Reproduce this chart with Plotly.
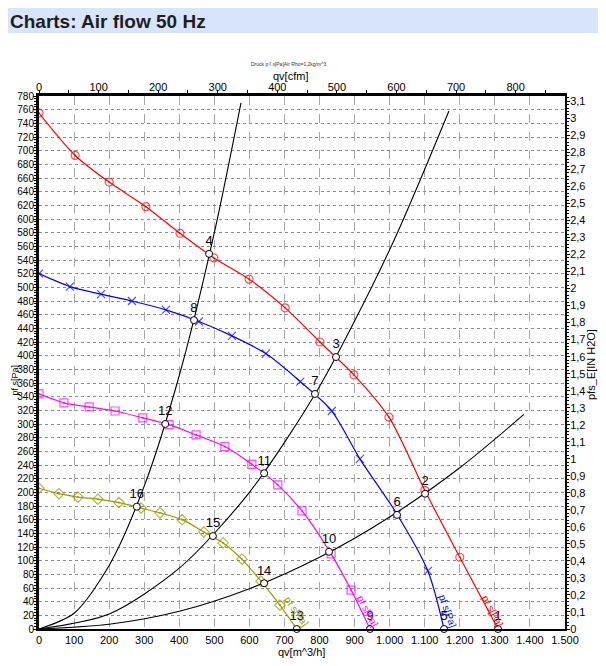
import plotly.graph_objects as go

# ---------------- data ----------------
CFM_TO_M3H = 1.69901      # m^3/h per cfm
PA_PER_INH2O = 249.089    # Pa per inch H2O

red_q = [0, 103, 200, 305, 402, 499, 599, 702, 801, 898, 998, 1100, 1200, 1309]
red_p = [755, 693, 654, 618, 579, 543, 512, 470, 420, 372, 310, 203, 105, 0]

blue_q = [0, 88, 177, 265, 362, 456, 550, 647, 745, 835, 915, 1021, 1109, 1155]
blue_p = [520, 501, 490, 480, 467, 450, 429, 403, 362, 319, 249, 168, 85, 0]

magenta_q = [0, 71, 143, 217, 296, 371, 448, 530, 607, 681, 750, 833, 890, 944]
magenta_p = [344, 331, 325, 319, 309, 299, 284, 267, 241, 211, 173, 110, 57, 0]

olive_q = [0, 57, 111, 168, 228, 291, 345, 408, 470, 525, 579, 633, 687, 735]
olive_p = [206, 198, 193, 190, 185, 177, 170, 160, 142, 126, 102, 70, 35, 0]

sys_high_q = [0, 100, 200, 300, 400, 500, 576]
sys_high_p = [0, 23, 93, 209, 371, 580, 770]

sys_mid_q = [0, 200, 400, 600, 800, 1000, 1169]
sys_mid_p = [0, 22, 89, 200, 355, 555, 758]

sys_low_q = [0, 200, 400, 600, 800, 1000, 1200, 1383]
sys_low_p = [0, 7, 26, 59, 105, 164, 236, 314]

op_q = [1309, 1101, 847, 485, 1155, 1021, 787, 442, 944, 827, 642, 360, 735, 642, 496, 279]
op_p = [0, 198, 398, 549, 0, 167, 344, 452, 0, 113, 228, 300, 0, 67, 136, 179]
op_labels = [str(i) for i in range(1, 17)]

x_range_m3h = [0, 1500]
y_range_pa = [0, 780]

title_text = "Charts: Air flow 50 Hz"
subtitle_text = "Druck p f s[Pa]Air Rho=1,2kg/m^3"
curve_label = "pf s[Pa]"
top_axis_title = "qv[cfm]"
left_axis_title = "pf s[Pa]"
right_axis_title = "pfs_E[IN H2O]"
bottom_axis_title = "qv[m^3/h]"

# ---------------- figure ----------------
fig = go.Figure()

FONT = "Liberation Sans, Arial, sans-serif"

curves = [
    (red_q, red_p, "#ff0000", "circle-open-dot", 8, -5, 62),
    (blue_q, blue_p, "#0000ff", "x-thin-open", 8, 4, 70),
    (magenta_q, magenta_p, "#ff00ff", "square-open-dot", 8, -2, 62),
    (olive_q, olive_p, "#999900", "diamond-open-dot", 8, 0, 55),
]

for q, p, col, sym, size, _, _ in curves:
    sizes = [size] * (len(q) - 1) + [0]
    fig.add_trace(go.Scatter(
        x=q, y=p, mode="lines+markers",
        line=dict(color=col, width=1.2, shape="spline", smoothing=0.8),
        marker=dict(symbol=sym, size=sizes, color=col, line=dict(color=col, width=1.2)),
        hoverinfo="skip", showlegend=False,
    ))

for q, p in [(sys_high_q, sys_high_p), (sys_mid_q, sys_mid_p), (sys_low_q, sys_low_p)]:
    fig.add_trace(go.Scatter(
        x=q, y=p, mode="lines",
        line=dict(color="black", width=1.1, shape="spline", smoothing=0.8),
        hoverinfo="skip", showlegend=False,
    ))

fig.add_trace(go.Scatter(
    x=op_q, y=op_p, mode="markers+text",
    text=op_labels, textposition="top center",
    textfont=dict(family=FONT, size=13, color="black"),
    marker=dict(symbol="circle", size=7, color="white", line=dict(color="black", width=1)),
    cliponaxis=False, hoverinfo="skip", showlegend=False,
))

# empty trace to attach the secondary (cfm / inH2O) axes
fig.add_trace(go.Scatter(x=[], y=[], xaxis="x2", yaxis="y2", showlegend=False, hoverinfo="skip"))

# rotated curve labels near the free-blow end of each fan curve
for q, p, col, _, _, xs, ang in curves:
    fig.add_annotation(
        x=q[-1], y=p[-1], xref="x", yref="y", text=curve_label, showarrow=False,
        textangle=ang, xshift=xs, yshift=18,
        font=dict(family=FONT, size=10, color=col),
    )

# page layout: the page body adds an 8px offset
OFF = 8
W, H = 606 - OFF, 666 - OFF
PLOT_L, PLOT_R, PLOT_T, PLOT_B = 39, 565, 96, 629   # page pixels of plot area
ML, MR, MT, MB = PLOT_L - OFF, W + OFF - PLOT_R, PLOT_T - OFF, H + OFF - PLOT_B
PW, PH = PLOT_R - PLOT_L, PLOT_B - PLOT_T


def px_x(px):
    return (px - PLOT_L) / PW


def px_y(py):
    return (PLOT_B - py) / PH


axis_font = dict(family=FONT, size=11, color="black")
ytick_font = dict(family=FONT, size=10, color="black")

fig.add_shape(type="rect", xref="paper", yref="paper",
              x0=px_x(OFF), x1=px_x(606), y0=px_y(33), y1=px_y(8),
              fillcolor="#d7e4fb", line=dict(width=0), layer="below")
fig.add_annotation(xref="paper", yref="paper", x=px_x(8), y=px_y(21),
                   xanchor="left", yanchor="middle", showarrow=False,
                   text="<b>" + title_text + "</b>",
                   font=dict(family="Liberation Sans, Arial, sans-serif", size=19, color="#1e1e1e"))
fig.add_annotation(xref="paper", yref="paper", x=px_x(289), y=px_y(64),
                   xanchor="center", yanchor="middle", showarrow=False,
                   text=subtitle_text, font=dict(family=FONT, size=5, color="#333333"))
fig.add_annotation(xref="paper", yref="paper", x=px_x(290), y=px_y(76),
                   xanchor="center", yanchor="middle", showarrow=False,
                   text=top_axis_title, font=axis_font)
fig.add_annotation(xref="paper", yref="paper", x=px_x(14.5), y=px_y(380),
                   xanchor="center", yanchor="middle", showarrow=False, textangle=-90,
                   text=left_axis_title, font=dict(family=FONT, size=9, color="black"))
fig.add_annotation(xref="paper", yref="paper", x=px_x(591), y=px_y(365),
                   xanchor="center", yanchor="middle", showarrow=False, textangle=-90,
                   text=right_axis_title, font=axis_font)
fig.add_annotation(xref="paper", yref="paper", x=px_x(301), y=px_y(652),
                   xanchor="center", yanchor="middle", showarrow=False,
                   text=bottom_axis_title, font=axis_font)

fig.update_layout(
    width=W, height=H,
    margin=dict(l=ML, r=MR, t=MT, b=MB, pad=0, autoexpand=False),
    paper_bgcolor="white", plot_bgcolor="white",
    separators=",.",
    showlegend=False,
    font=dict(family=FONT, size=11, color="black"),
    xaxis=dict(
        automargin=False,
        range=x_range_m3h, tick0=0, dtick=100, tickformat=",",
        showgrid=True, gridcolor="#a8a8a8", griddash="dash", gridwidth=1,
        zeroline=False, showline=True, linecolor="black", linewidth=2,
        ticks="", tickfont=axis_font,
    ),
    xaxis2=dict(
        automargin=False,
        overlaying="x", side="top", anchor="y",
        range=[x_range_m3h[0] / CFM_TO_M3H, x_range_m3h[1] / CFM_TO_M3H],
        tick0=0, dtick=100, showgrid=False, zeroline=False,
        showline=True, linecolor="black", linewidth=3,
        ticks="outside", ticklen=3, tickwidth=1, tickcolor="black",
        minor=dict(dtick=50, ticks="outside", ticklen=3, tickcolor="black", showgrid=False),
        tickfont=axis_font, ticklabelstandoff=-5,
    ),
    yaxis=dict(
        automargin=False,
        range=y_range_pa, tick0=0, dtick=20,
        showgrid=True, gridcolor="#8c8c8c", griddash="dot", gridwidth=1,
        zeroline=False, showline=True, linecolor="black", linewidth=3,
        ticks="outside", ticklen=3, tickwidth=1, tickcolor="black",
        minor=dict(dtick=4, ticks="outside", ticklen=2, tickcolor="black", showgrid=False),
        tickfont=ytick_font, ticklabelstandoff=-3,
    ),
    yaxis2=dict(
        automargin=False,
        overlaying="y", side="right", anchor="x",
        range=[y_range_pa[0] / PA_PER_INH2O, y_range_pa[1] / PA_PER_INH2O],
        tick0=0, dtick=0.1, showgrid=False, zeroline=False,
        showline=True, linecolor="black", linewidth=2,
        ticks="outside", ticklen=3, tickwidth=1, tickcolor="black",
        minor=dict(dtick=0.02, ticks="outside", ticklen=2, tickcolor="black", showgrid=False),
        tickfont=axis_font, ticklabelstandoff=-2,
    ),
)

fig.write_html("out.html")
